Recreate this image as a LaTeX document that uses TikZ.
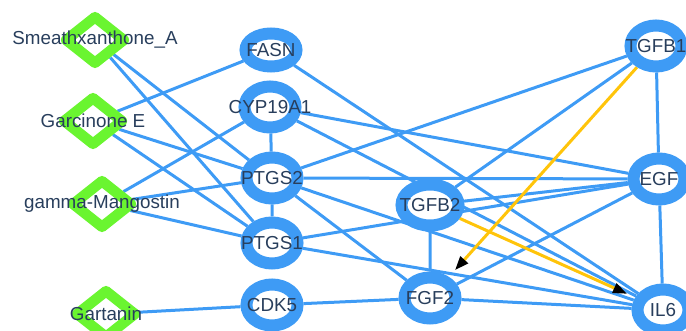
\documentclass[tikz,border=0pt]{standalone}
\usepackage{fontspec}
\setmainfont{Liberation Sans}
\usetikzlibrary{shapes.geometric,arrows.meta,backgrounds}
\definecolor{ringblue}{RGB}{62,155,245}
\definecolor{druggreen}{RGB}{106,245,48}
\definecolor{labelnavy}{RGB}{40,62,92}
\definecolor{flowyellow}{RGB}{255,196,10}

\begin{document}
\begin{tikzpicture}[x=1pt,y=-1pt,
    lbl/.style={text=labelnavy,font=\fontsize{18.8}{20}\selectfont,inner sep=0pt},
    target/.style={ellipse,draw=ringblue,fill=white,line width=12pt,
      minimum width=51pt,minimum height=41pt,inner sep=0pt},
    drug/.style={diamond,draw=druggreen,fill=white,line width=10.5pt,line join=round,
      minimum width=62pt,minimum height=50pt,inner sep=0pt},
    link/.style={ringblue,line width=3pt},
    flow/.style={flowyellow,line width=3pt,shorten >=9pt,
      -{Triangle[length=14pt,width=10pt,color=black]}}]
  \clip (0,0) rectangle (686,331);
  % compounds
  \node[drug,label={[lbl]center:Smeathxanthone\_A}] (sme) at (95,40) {};
  \node[drug,label={[lbl]center:Garcinone E}] (gar) at (93,121) {};
  \node[drug,label={[lbl]center:gamma-Mangostin}] (gam) at (102,204) {};
  \node[drug,label={[lbl]center:Gartanin}] (gart) at (106,314) {};
  % targets
  \node[target,minimum height=33pt,label={[lbl]center:FASN}] (fasn) at (271,50) {};
  \node[target,label={[lbl]center:CYP19A1}] (cyp) at (270,107) {};
  \node[target,label={[lbl]center:PTGS2}] (ptgs2) at (272,178) {};
  \node[target,label={[lbl]center:PTGS1}] (ptgs1) at (272,243) {};
  \node[target,label={[lbl]center:CDK5}] (cdk5) at (272,305) {};
  \node[target,minimum width=57pt,label={[lbl]center:TGFB2}] (tgfb2) at (430,205) {};
  \node[target,label={[lbl]center:FGF2}] (fgf2) at (430,298) {};
  \node[target,label={[lbl]center:TGFB1}] (tgfb1) at (656,46) {};
  \node[target,label={[lbl]center:EGF}] (egf) at (659,179) {};
  \node[target,label={[lbl]center:IL6}] (il6) at (663,310) {};
  \begin{scope}[on background layer]
    \draw[link] (sme) -- (ptgs2) (sme) -- (ptgs1);
    \draw[link] (gar) -- (fasn) (gar) -- (ptgs2) (gar) -- (ptgs1);
    \draw[link] (gam) -- (cyp) (gam) -- (ptgs2) (gam) -- (ptgs1);
    \draw[link] (gart) -- (cdk5);
    \draw[link] (fasn) -- (il6);
    \draw[link] (cyp) -- (ptgs2) (cyp) -- (egf) (cyp) -- (il6);
    \draw[link] (ptgs2) -- (ptgs1) (ptgs2) -- (tgfb1) (ptgs2) -- (egf)
      (ptgs2) -- (fgf2) (ptgs2) -- (il6);
    \draw[link] (ptgs1) -- (egf) (ptgs1) -- (il6);
    \draw[link] (cdk5) -- (fgf2);
    \draw[link] (tgfb2) -- (tgfb1) (tgfb2) -- (egf) (tgfb2) -- (fgf2);
    \draw[link] (fgf2) -- (egf) (fgf2) -- (il6);
    \draw[link] (tgfb1) -- (egf) (egf) -- (il6);
    % the two directed links
    \draw[flow] (tgfb1) -- (fgf2);
    \draw[flow] (tgfb2) -- (il6);
  \end{scope}
\end{tikzpicture}
\end{document}
